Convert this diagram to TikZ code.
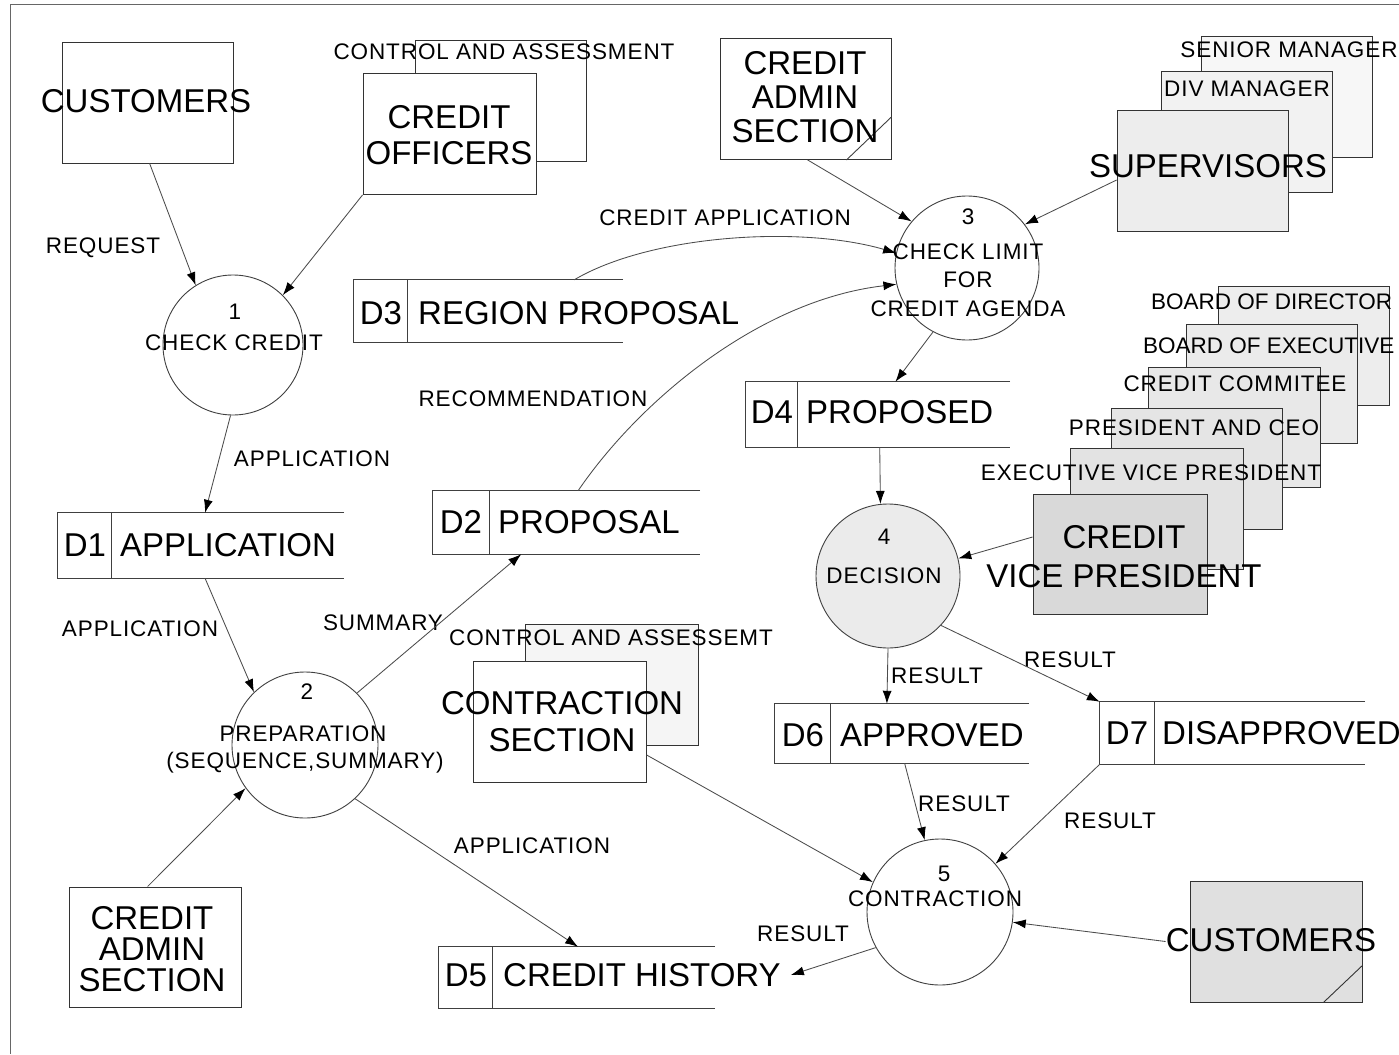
\documentclass[tikz,border=0pt]{standalone}
\usepackage{fontspec}
\setmainfont{Liberation Sans}
\newfontfamily\widesans{Liberation Sans}[LetterSpace=4.0]
\usetikzlibrary{arrows.meta,calc}
\newcommand{\lblfont}{\widesans\fontsize{22.5}{27}\selectfont}
\newcommand{\tightlblfont}{\fontsize{22.5}{27}\selectfont}
\newcommand{\bigfont}{\fontsize{33}{36}\selectfont}
% open-ended data store: top, left, bottom lines plus the divider after the id
\newcommand{\storelines}[2]{%
  \draw[storeline] (#1.north east) -- (#1.north west) -- (#1.south west) -- (#1.south east);
  \draw[storeline] ([xshift=#2pt]#1.north west) -- ([xshift=#2pt]#1.south west);}
\begin{document}
\begin{tikzpicture}[x=1pt,y=-1pt,
  ent/.style={draw=black!80,line width=0.9pt,minimum width=171pt,minimum height=121pt,inner sep=0pt,fill=white},
  proc/.style={circle,draw=black!75,line width=0.9pt,inner sep=0pt,minimum size=144pt},
  storebox/.style={inner sep=0pt,minimum height=63pt},
  storeline/.style={draw=black!75,line width=0.9pt},
  flow/.style={draw=black!70,line width=0.85pt,-{Latex[length=13pt,width=9pt,color=black]}},
  lbl/.style={font=\lblfont,inner sep=0pt,text height=16pt,text depth=0pt},
  big/.style={font=\bigfont,inner sep=0pt,text height=23.6pt,text depth=0pt},
  bigml/.style={inner sep=0pt,align=center}
]
\useasboundingbox (0,0) rectangle (1399,1054);
\fill[white] (0,0) rectangle (1399,1054);
% page frame
\draw[black!60,line width=1pt] (1399,5) -- (10,5) -- (10,1054);

% external entities
\node[ent] (cust1) at (147.5,102.5) {};
\node[ent] (offB) at (501,100.5) {};
\node[ent,minimum width=173pt] (off) at (449.5,134) {};
\node[ent] (adm1) at (805.5,99) {};
\node[ent,fill=black!3] (senior) at (1287,96.5) {};
\node[ent,fill=black!5] (div) at (1246.5,132) {};
\node[ent,fill=black!7] (sup) at (1202.5,171) {};
\node[ent,fill=black!7,minimum height=119pt] (bod) at (1303.5,345.5) {};
\node[ent,fill=black!8,minimum height=119pt] (boe) at (1271.5,383.5) {};
\node[ent,fill=black!9,minimum width=172pt,minimum height=120pt] (cc) at (1234,427) {};
\node[ent,fill=black!10] (pceo) at (1196.5,468.5) {};
\node[ent,fill=black!11,minimum width=173pt] (evp) at (1156.5,508.5) {};
\node[ent,fill=black!15,minimum width=174pt,minimum height=120pt] (cvp) at (1120,554) {};
\node[ent,fill=black!4,minimum width=173pt] (consB) at (611.5,684.5) {};
\node[ent,minimum width=173pt] (cons) at (559.5,721.5) {};
\node[ent,minimum width=172pt,minimum height=120pt] (adm2) at (155,947) {};
\node[ent,fill=black!12,minimum width=172pt] (cust2) at (1276,941.5) {};
% duplicate-entity corner marks
\draw[black!75,line width=0.9pt] ([xshift=-45pt]adm1.south east) -- ([yshift=43pt]adm1.south east);
\draw[black!80,line width=0.9pt] ([xshift=-39pt]cust2.south east) -- ([yshift=37pt]cust2.south east);

% processes
\node[proc,minimum size=140pt] (p1) at (233,345) {};
\node[proc,minimum size=146pt] (p2) at (305,745) {};
\node[proc] (p3) at (967,268) {};
\node[proc,fill=black!8] (p4) at (888,576) {};
\node[proc,minimum size=146pt] (p5) at (940,912) {};

% data stores
\node[storebox,minimum width=286pt,minimum height=65pt] (d1) at (201,545.5) {};
\node[storebox,minimum width=267pt] (d2) at (566.5,522.5) {};
\node[storebox,minimum width=269pt,minimum height=62pt] (d3) at (488.5,311) {};
\node[storebox,minimum width=264pt,minimum height=65pt] (d4) at (878,414.5) {};
\node[storebox,minimum width=276pt,minimum height=61pt] (d5) at (577,977.5) {};
\node[storebox,minimum width=254pt,minimum height=59pt] (d6) at (902,733.5) {};
\node[storebox,minimum width=265pt,minimum height=62pt] (d7) at (1232.5,733) {};
\storelines{d1}{54}
\storelines{d2}{57}
\storelines{d3}{54}
\storelines{d4}{52}
\storelines{d5}{54}
\storelines{d6}{56}
\storelines{d7}{55}

% texts
\node[big] (t-cust1) at (146,101) {CUSTOMERS};
\node[lbl] (t-offctl) at (504,52) {CONTROL AND ASSESSMENT};
\node[bigml,font=\fontsize{33}{36}\selectfont] (t-off) at (449,135) {CREDIT\\OFFICERS};
\node[bigml,font=\fontsize{33}{34}\selectfont] (t-adm1) at (805,97) {CREDIT\\ADMIN\\SECTION};
\node[lbl] (t-senior) at (1289,50) {SENIOR MANAGER};
\node[lbl] (t-div) at (1247,89) {DIV MANAGER};
\node[big] (t-sup) at (1208,166) {SUPERVISORS};
\node[lbl] (t-req) at (103,245) {REQUEST};
\node[lbl] (t-n1) at (235,311) {1};
\node[lbl] (t-p1) at (234,342) {CHECK CREDIT};
\node[lbl] (t-capp) at (725,217) {CREDIT APPLICATION};
\node[lbl] (t-n3) at (968,216) {3};
\node[lbl] (t-p3a) at (968,251) {CHECK LIMIT};
\node[lbl] (t-p3b) at (968,279) {FOR};
\node[lbl] (t-p3c) at (968,308) {CREDIT AGENDA};
\node[big] (t-d3id) at (381,313) {D3};
\node[big,anchor=west] (t-d3) at (418,313) {REGION PROPOSAL};
\node[lbl,font=\tightlblfont,anchor=west] (t-bod) at (1151,301) {BOARD OF DIRECTOR};
\node[lbl,font=\tightlblfont,anchor=west] (t-boe) at (1143,345) {BOARD OF EXECUTIVE};
\node[lbl] (t-cc) at (1235,383) {CREDIT COMMITEE};
\node[lbl] (t-pceo) at (1194,427) {PRESIDENT AND CEO};
\node[lbl] (t-evp) at (1151,472) {EXECUTIVE VICE PRESIDENT};
\node[bigml,font=\fontsize{33}{39}\selectfont] (t-cvp) at (1124,557) {CREDIT\\VICE PRESIDENT};
\node[lbl] (t-rec) at (533,398) {RECOMMENDATION};
\node[big] (t-d4id) at (772,412) {D4};
\node[big,anchor=west] (t-d4) at (806,412) {PROPOSED};
\node[lbl] (t-app1) at (312,458) {APPLICATION};
\node[big] (t-d1id) at (85,545) {D1};
\node[big,anchor=west] (t-d1) at (120,545) {APPLICATION};
\node[big] (t-d2id) at (461,522) {D2};
\node[big,anchor=west] (t-d2) at (498,522) {PROPOSAL};
\node[lbl] (t-n4) at (884,536) {4};
\node[lbl] (t-p4) at (884,575) {DECISION};
\node[lbl] (t-app2) at (140,628) {APPLICATION};
\node[lbl] (t-sum) at (383,622) {SUMMARY};
\node[lbl] (t-consctl) at (611,637) {CONTROL AND ASSESSEMT};
\node[bigml,font=\fontsize{33}{37}\selectfont] (t-cons) at (562,722) {CONTRACTION\\SECTION};
\node[lbl] (t-n2) at (307,691) {2};
\node[lbl] (t-p2a) at (303,733) {PREPARATION};
\node[lbl] (t-p2b) at (305,760) {(SEQUENCE,SUMMARY)};
\node[lbl] (t-r1) at (937,675) {RESULT};
\node[lbl] (t-r2) at (1070,659) {RESULT};
\node[big] (t-d6id) at (803,735) {D6};
\node[big,anchor=west] (t-d6) at (840,735) {APPROVED};
\node[big] (t-d7id) at (1127,733) {D7};
\node[big,anchor=west] (t-d7) at (1162,733) {DISAPPROVED};
\node[lbl] (t-r3) at (964,803) {RESULT};
\node[lbl] (t-r4) at (1110,820) {RESULT};
\node[lbl] (t-app3) at (532,845) {APPLICATION};
\node[lbl] (t-n5) at (944,873) {5};
\node[lbl] (t-p5) at (935,898) {CONTRACTION};
\node[lbl] (t-r5) at (803,933) {RESULT};
\node[bigml,font=\fontsize{33}{31}\selectfont] (t-adm2) at (152,949) {CREDIT\\ADMIN\\SECTION};
\node[big] (t-d5id) at (466,975) {D5};
\node[big,anchor=west] (t-d5) at (503,975) {CREDIT HISTORY};
\node[big] (t-cust2) at (1271,940) {CUSTOMERS};

% data flows
\draw[flow] (cust1.-88) -- (p1.122);
\draw[flow] (off.south west) -- (p1.45);
\draw[flow] (p1.-92) -- (d1.83);
\draw[flow] (d1.-83) -- (p2.134);
\draw[flow] (adm2.97) -- (p2.216);
\draw[flow] (p2.45) -- (d2.215);
\draw[flow] (p2.-47) -- (d5.88);
\draw[flow] (d2.70) .. controls (640,400) and (760,300) .. (p3.193);
\draw[flow] (d3.20) .. controls (650,235) and (800,225) .. (p3.168);
\draw[flow] (adm1.-88) -- (p3.140);
\draw[flow] (sup.186) -- (p3.37);
\draw[flow] (p3.-118) -- (d4.62);
\draw[flow] (d4.-87) -- (p4.96);
\draw[flow] (cvp.169) -- (p4.14);
\draw[flow] (p4.-90) -- (d6.117);
\draw[flow] (p4.-43) -- (d7.north west);
\draw[flow] (d6.-85) -- (p5.102);
\draw[flow] (d7.south west) -- (p5.41);
\draw[flow] (cons.-21) -- (p5.156);
\draw[flow] ([xshift=-24pt]cust2.west) -- (p5.-8);
\draw[flow] (p5.209) -- ([xshift=10pt]t-d5.east);
\end{tikzpicture}
\end{document}
